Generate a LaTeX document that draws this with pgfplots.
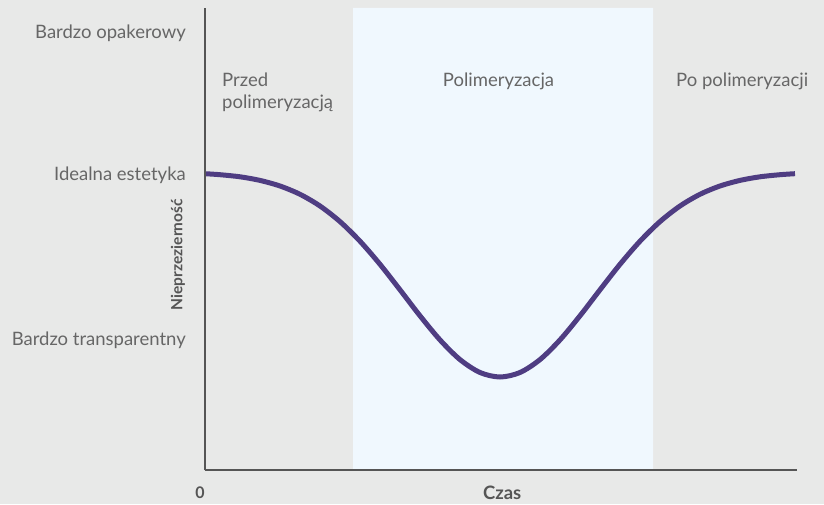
\documentclass[border=0pt]{standalone}
\usepackage{pgfplots}
\pgfplotsset{compat=1.18}
\usepackage{fontspec}
\setmainfont{Lato}
\definecolor{bg}{HTML}{E8E9E8}
\definecolor{shade}{HTML}{F0F8FE}
\definecolor{curve}{HTML}{4F3D82}
\definecolor{axisc}{HTML}{555555}
\definecolor{txt}{HTML}{666666}
\begin{document}
\begin{tikzpicture}
\path[use as bounding box, fill=bg] (-205pt,-34pt) rectangle (619pt,470pt);
\begin{axis}[
  at={(0,0)}, anchor=south west,
  x=1pt, y=1pt, scale only axis,
  xmin=0, xmax=592, ymin=0, ymax=462,
  axis lines=left, axis line style={axisc, line width=1.6pt, -},
  clip=false,
  xtick={0}, xticklabels={0},
  xticklabel style={font=\fontsize{16}{19}\selectfont\bfseries, text=axisc, inner sep=0pt, anchor=center, yshift=-23pt, xshift=-5pt},
  ytick={437,295,130},
  yticklabels={Bardzo opakerowy, Idealna estetyka, Bardzo transparentny},
  yticklabel style={font=\fontsize{18.5}{22}\selectfont, text=txt, inner sep=0pt, anchor=east, xshift=-19pt},
  major tick length=0pt, tick style={draw=none},
  xlabel={Czas},
  xlabel style={at={(rel axis cs:0.502,-0.0498)}, anchor=center, font=\fontsize{18.5}{22}\selectfont\bfseries, text=axisc, inner sep=0pt},
  ylabel={Nieprzezierność},
  ylabel style={at={(rel axis cs:-0.0456,0.466)}, anchor=center, font=\fontsize{15.5}{18}\selectfont\bfseries, text=axisc, inner sep=0pt},
]
\addplot[draw=none, fill=shade, forget plot] coordinates {(148,0) (448,0) (448,462) (148,462)} \closedcycle;
\addplot[curve, line width=5pt, smooth, line cap=butt] coordinates {
(0,296.3) (15,295.3) (35,293.2) (55,289.6) (75,284.0) (95,275.7) (115,264.0) (135,248.4) (155,228.8) (175,205.7) (195,180.2) (215,154.2) (235,130.1) (255,110.4) (275,97.5) (295,93)
(315,97.5) (335,110.4) (355,130.1) (375,154.2) (395,180.2) (415,205.7) (435,228.8) (455,248.4) (475,264.0) (495,275.7) (515,284.0) (535,289.6) (555,293.2) (575,295.3) (590,296.3)};
\draw[axisc, line width=1.6pt] (axis cs:0,0) -- (axis cs:592,0);
\draw[axisc, line width=1.6pt] (axis cs:0,0) -- (axis cs:0,462);
\node[anchor=base west, align=left, text=txt, font=\fontsize{18.5}{22}\selectfont, inner sep=0pt] at (axis cs:17,383) {Przed};
\node[anchor=base west, align=left, text=txt, font=\fontsize{18.5}{22}\selectfont, inner sep=0pt] at (axis cs:17,361) {polimeryzacją};
\node[anchor=base, text=txt, font=\fontsize{18.5}{22}\selectfont, inner sep=0pt] at (axis cs:293.5,383) {Polimeryzacja};
\node[anchor=base west, text=txt, font=\fontsize{18.5}{22}\selectfont, inner sep=0pt] at (axis cs:471,383) {Po polimeryzacji};
\end{axis}
\end{tikzpicture}
\end{document}
